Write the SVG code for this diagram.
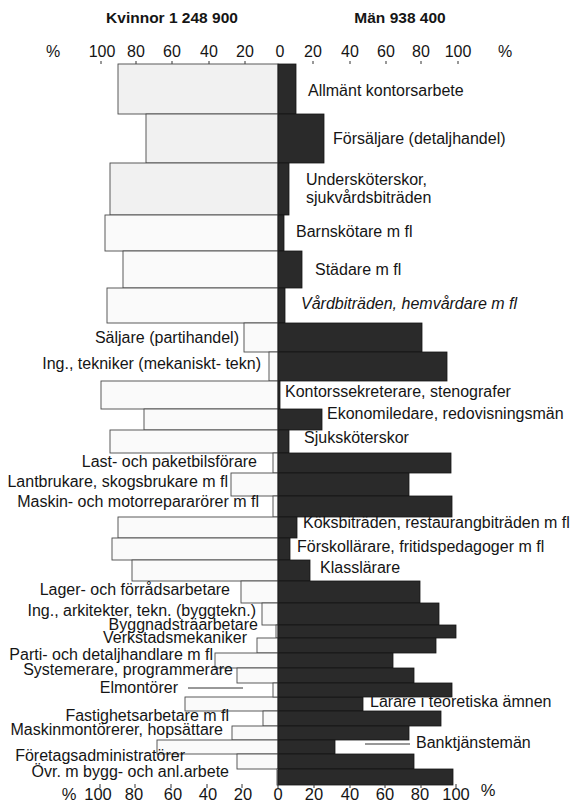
<svg xmlns="http://www.w3.org/2000/svg" width="574" height="805" viewBox="0 0 574 805">
<style>
text{font-family:"Liberation Sans",Arial,sans-serif;fill:#151515}
.h{font-size:15.5px;font-weight:bold;text-anchor:middle}
.ax{font-size:16px;text-anchor:middle}
.axb{font-size:16.5px;text-anchor:middle}
.l{font-size:16px}
.le{font-size:16px;text-anchor:end}
.f{fill:#fafafa;stroke:#4a4a4a;stroke-width:0.9}
.fs{fill:#f1f1f1;stroke:#4a4a4a;stroke-width:0.9}
.m{fill:#2a2a2a;stroke:#151515;stroke-width:0.8}
.tick{stroke:#333;stroke-width:1}
.lead{stroke:#333;stroke-width:1;fill:none}
</style>
<rect width="574" height="805" fill="#fff"/>
<g id="headers">
<text class="h" x="172" y="23">Kvinnor 1 248 900</text>
<text class="h" x="400" y="23">Män 938 400</text>
</g>
<g id="axis-top">
<text class="ax" x="53" y="57">%</text>
<text class="ax" x="102" y="57">100</text>
<text class="ax" x="136" y="57">80</text>
<text class="ax" x="172" y="57">60</text>
<text class="ax" x="209" y="57">40</text>
<text class="ax" x="245" y="57">20</text>
<text class="ax" x="280" y="57">0</text>
<text class="ax" x="313" y="57">20</text>
<text class="ax" x="350" y="57">40</text>
<text class="ax" x="386" y="57">60</text>
<text class="ax" x="421" y="57">80</text>
<text class="ax" x="458" y="57">100</text>
<text class="ax" x="505" y="57">%</text>
<path class="tick" d="M101 61v3M136 61v3M172 61v3M209 61v3M245 61v3M313 61v3M350 61v3M386 61v3M421 61v3M458 61v3"/>
</g>
<g id="r1"><rect class="fs" x="118" y="64" width="160" height="50"/><rect class="m" x="278" y="64" width="18" height="50"/><text class="l" x="308" y="96">Allmänt kontorsarbete</text></g>
<g id="r2"><rect class="fs" x="146" y="114" width="132" height="49"/><rect class="m" x="278" y="114" width="46" height="49"/><text class="l" x="333" y="144">Försäljare (detaljhandel)</text></g>
<g id="r3"><rect class="fs" x="110" y="163" width="168" height="52"/><rect class="m" x="278" y="163" width="11" height="52"/><text class="l" x="306" y="185">Undersköterskor,</text><text class="l" x="306" y="203">sjukvårdsbiträden</text></g>
<g id="r4"><rect class="f" x="105" y="215" width="173" height="36"/><rect class="m" x="278" y="215" width="6" height="36"/><text class="l" x="296" y="237">Barnskötare m fl</text></g>
<g id="r5"><rect class="f" x="123" y="251" width="155" height="37"/><rect class="m" x="278" y="251" width="24" height="37"/><text class="l" x="315" y="275">Städare m fl</text></g>
<g id="r6"><rect class="f" x="107" y="288" width="171" height="35"/><rect class="m" x="278" y="288" width="7" height="35"/><text class="l" x="301" y="309" font-style="italic">Vårdbiträden, hemvårdare m fl</text></g>
<g id="r7"><rect class="f" x="244" y="323" width="34" height="29"/><rect class="m" x="278" y="323" width="144" height="29"/><text class="le" x="239" y="343">Säljare (partihandel)</text></g>
<g id="r8"><rect class="f" x="269" y="352" width="9" height="29"/><rect class="m" x="278" y="352" width="169" height="29"/><text class="le" x="261" y="369">Ing., tekniker (mekaniskt- tekn)</text></g>
<g id="r9"><rect class="f" x="101" y="381" width="177" height="28"/><rect class="m" x="278" y="381" width="2" height="28"/><text class="l" x="285" y="397">Kontorssekreterare, stenografer</text></g>
<g id="r10"><rect class="f" x="144" y="409" width="134" height="21"/><rect class="m" x="278" y="409" width="44" height="21"/><text class="l" x="327" y="419">Ekonomiledare, redovisningsmän</text></g>
<g id="r11"><rect class="f" x="110" y="430" width="168" height="23"/><rect class="m" x="278" y="430" width="11" height="23"/><text class="l" x="304" y="443">Sjuksköterskor</text></g>
<g id="r12"><rect class="f" x="273" y="453" width="5" height="20"/><rect class="m" x="278" y="453" width="173" height="20"/><text class="le" x="257" y="467">Last- och paketbilsförare</text></g>
<g id="r13"><rect class="f" x="231" y="473" width="47" height="23"/><rect class="m" x="278" y="473" width="131" height="23"/><text class="le" x="228" y="487">Lantbrukare, skogsbrukare m fl</text></g>
<g id="r14"><rect class="f" x="273" y="496" width="5" height="21"/><rect class="m" x="278" y="496" width="174" height="21"/><text class="le" x="259" y="507">Maskin- och motorrepararörer m fl</text></g>
<g id="r15"><rect class="f" x="118" y="517" width="160" height="21"/><rect class="m" x="278" y="517" width="19" height="21"/><text class="l" x="303" y="528">Köksbiträden, restaurangbiträden m fl</text></g>
<g id="r16"><rect class="f" x="112" y="538" width="166" height="22"/><rect class="m" x="278" y="538" width="12" height="22"/><text class="l" x="297" y="552">Förskollärare, fritidspedagoger m fl</text></g>
<g id="r17"><rect class="f" x="132" y="560" width="146" height="21"/><rect class="m" x="278" y="560" width="32" height="21"/><text class="l" x="320" y="573">Klasslärare</text></g>
<g id="r18"><rect class="f" x="241" y="581" width="37" height="22"/><rect class="m" x="278" y="581" width="142" height="22"/><text class="le" x="230" y="595">Lager- och förrådsarbetare</text></g>
<g id="r19"><rect class="f" x="262" y="603" width="16" height="22"/><rect class="m" x="278" y="603" width="161" height="22"/><text class="le" x="256" y="616">Ing., arkitekter, tekn. (byggtekn.)</text></g>
<g id="r20"><rect class="f" x="276" y="625" width="2" height="13"/><rect class="m" x="278" y="625" width="178" height="13"/><text class="le" x="258" y="630">Byggnadsträarbetare</text></g>
<g id="r21"><rect class="f" x="257" y="638" width="21" height="15"/><rect class="m" x="278" y="638" width="158" height="15"/><text class="le" x="247" y="643">Verkstadsmekaniker</text></g>
<g id="r22"><rect class="f" x="215" y="653" width="63" height="15"/><rect class="m" x="278" y="653" width="115" height="15"/><text class="le" x="213" y="660">Parti- och detaljhandlare m fl</text></g>
<g id="r23"><rect class="f" x="237" y="668" width="41" height="15"/><rect class="m" x="278" y="668" width="136" height="15"/><text class="le" x="233" y="675">Systemerare, programmerare</text></g>
<g id="r25"><rect class="f" x="185" y="697" width="93" height="14"/><rect class="m" x="278" y="697" width="85" height="14"/><text class="l" x="370" y="707">Lärare i teoretiska ämnen</text></g>
<g id="r24"><rect class="f" x="273" y="683" width="5" height="14"/><rect class="m" x="278" y="683" width="174" height="14"/><text class="le" x="178" y="693">Elmontörer</text></g>
<g id="r26"><rect class="f" x="263" y="711" width="15" height="15"/><rect class="m" x="278" y="711" width="163" height="15"/><text class="le" x="229" y="721">Fastighetsarbetare m fl</text></g>
<g id="r27"><rect class="f" x="232" y="726" width="46" height="14"/><rect class="m" x="278" y="726" width="131" height="14"/><text class="le" x="223" y="735">Maskinmontörerer, hopsättare</text></g>
<g id="r28"><rect class="f" x="157" y="740" width="121" height="14"/><rect class="m" x="278" y="740" width="57" height="14"/><text class="l" x="416" y="748">Banktjänstemän</text></g>
<g id="r29"><rect class="f" x="237" y="754" width="41" height="15"/><rect class="m" x="278" y="754" width="136" height="15"/><text class="le" x="185" y="761">Företagsadministratörer</text></g>
<g id="r30"><rect class="f" x="277" y="769" width="1" height="16"/><rect class="m" x="278" y="769" width="175" height="16"/><text class="le" x="229" y="777">Övr. m bygg- och anl.arbete</text></g>
<g id="connectors">
<path class="lead" d="M188 688H243"/>
<path class="lead" d="M365 744H410"/>
</g>
<g id="axis-bottom">
<path class="tick" d="M100 784v4M135 784v4M171 784v4M207 784v4M242 784v4M278 784v4M314 784v4M350 784v4M385 784v4M421 784v4M456 784v4"/>
<text class="axb" x="69" y="800">%</text>
<text class="axb" x="98" y="800">100</text>
<text class="axb" x="134" y="800">80</text>
<text class="axb" x="173" y="800">60</text>
<text class="axb" x="208" y="800">40</text>
<text class="axb" x="243" y="800">20</text>
<text class="axb" x="278" y="800">0</text>
<text class="axb" x="314" y="800">20</text>
<text class="axb" x="350" y="800">40</text>
<text class="axb" x="385" y="800">60</text>
<text class="axb" x="420" y="800">80</text>
<text class="axb" x="456" y="800">100</text>
<text class="axb" x="488" y="796">%</text>
</g>
</svg>
